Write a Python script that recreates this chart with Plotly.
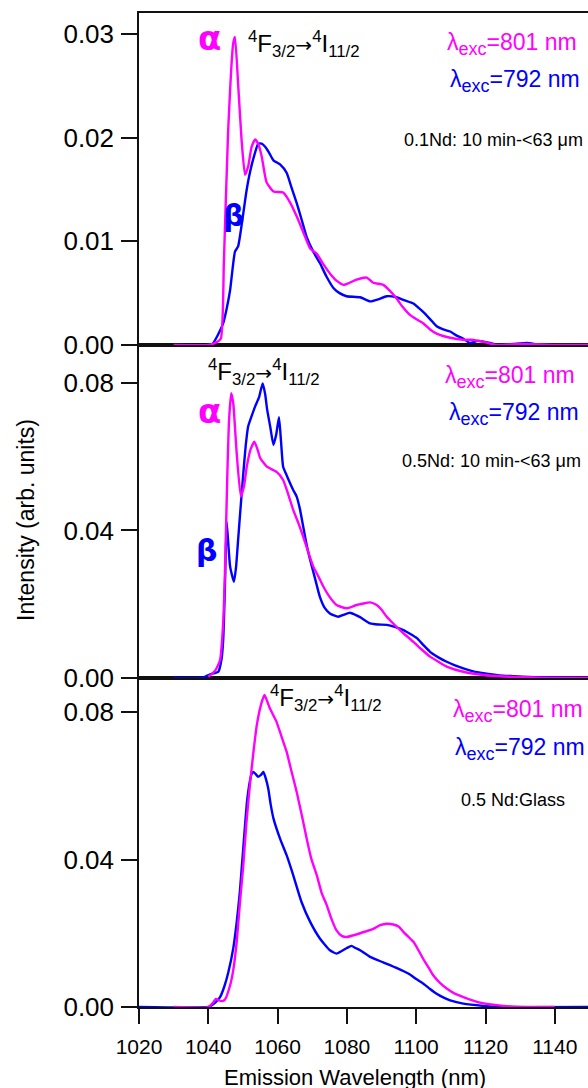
import plotly.graph_objects as go

# ---------------- data ----------------
# Panel 1 (top): 0.1Nd: 10 min-<63 um
p1_m_x = [1030, 1040, 1042, 1043.6, 1044.5, 1045.7, 1047.2, 1047.7, 1048.6, 1049.6, 1050.6, 1051.5, 1052.5, 1053.5,
          1054.4, 1055.4, 1056.8, 1058.8, 1061.6, 1063.5, 1065.5, 1067.5, 1069.4, 1071.3, 1073, 1075.1, 1077, 1079,
          1080.8, 1082.8, 1085.7, 1087.6, 1090.5, 1092.5, 1094.3, 1096, 1098.2, 1100, 1102, 1104, 1105.9, 1109.8,
          1113.6, 1116, 1119.4, 1123.2, 1130, 1140, 1150]
p1_m_y = [0, 0, 0.0002, 0.0006, 0.008, 0.0204, 0.0291, 0.0297, 0.0252, 0.0198, 0.0164, 0.0172, 0.0191, 0.0198,
          0.0194, 0.0182, 0.0157, 0.0148, 0.0147, 0.0138, 0.0124, 0.0108, 0.0093, 0.0088, 0.0079, 0.0069, 0.0062,
          0.0058, 0.0060, 0.0063, 0.0065, 0.0060, 0.0058, 0.0052, 0.0045, 0.0037, 0.0029, 0.0025, 0.0021, 0.0015,
          0.0011, 0.0007, 0.0005, 0.0005, 0.0003, 0.0, 0.0001, 0, 0]
p1_b_x = [1030, 1038, 1041, 1042.5, 1044.3, 1045.3, 1046.3, 1047.7, 1048.6, 1050.1, 1051, 1052, 1053.2, 1054.4,
          1055.4, 1056.4, 1057.6, 1058.8, 1060.7, 1062.6, 1064, 1065.5, 1067, 1068.4, 1070.3, 1072.2, 1074.1, 1076.1,
          1077.9, 1079.9, 1083.8, 1086.7, 1089, 1091.5, 1094.3, 1096.7, 1099.2, 1100.6, 1102, 1104, 1105.9, 1107.8,
          1109.8, 1111.7, 1113.6, 1115.5, 1117.9, 1121.3, 1123.5, 1128, 1132, 1136, 1150]
p1_b_y = [0, 0, 0, 0.0008, 0.0021, 0.0035, 0.0053, 0.0090, 0.0095, 0.0127, 0.0148, 0.0166, 0.0182, 0.0194,
          0.0194, 0.0191, 0.0185, 0.0178, 0.0174, 0.0166, 0.0152, 0.0137, 0.0120, 0.0104, 0.0090, 0.0079, 0.0066,
          0.0055, 0.0050, 0.0047, 0.0046, 0.0042, 0.0044, 0.0047, 0.0046, 0.0043, 0.0040, 0.0036, 0.0032, 0.0025,
          0.0018, 0.0015, 0.0013, 0.0009, 0.0006, 0.0002, 0.0004, 0.0002, 0.0, 0.0001, 0.0002, 0, 0]

# Panel 2 (middle): 0.5Nd: 10 min-<63 um
p2_m_x = [1040, 1042, 1043.4, 1044.3, 1044.8, 1045.5, 1046.0, 1046.6, 1047.2, 1047.7, 1048.2, 1049.4, 1050.3,
          1051.1, 1052.2, 1053.3, 1054.2, 1055, 1056.9, 1059.7, 1061.6, 1063, 1064.5, 1066, 1067.4, 1068.9, 1070.3,
          1071.8, 1073.2, 1075, 1077, 1079.9, 1082.8, 1084.8, 1086.7, 1088.6, 1090, 1091.5, 1094.3, 1096.7, 1099.2,
          1101.5, 1104, 1106.4, 1108.8, 1113.6, 1119.4, 1125.2, 1132, 1139, 1150]
p2_m_y = [0.0003, 0.002, 0.0049, 0.015, 0.0284, 0.0555, 0.070, 0.0772, 0.0745, 0.068, 0.0609, 0.0492, 0.052,
          0.0573, 0.062, 0.0641, 0.062, 0.0596, 0.0573, 0.0559, 0.0537, 0.050, 0.0456, 0.042, 0.0383, 0.034, 0.0302,
          0.0275, 0.0248, 0.022, 0.0198, 0.0189, 0.0198, 0.0202, 0.0205, 0.0198, 0.0185, 0.0166, 0.0139, 0.0118,
          0.0098, 0.0078, 0.0058, 0.0044, 0.0031, 0.0017, 0.0008, 0.0004, 0.0002, 0, 0]
p2_b_x = [1030, 1038, 1040.5, 1042.9, 1043.8, 1044.3, 1044.8, 1045.3, 1045.8, 1046.3, 1047.4, 1048.0, 1048.6,
          1049.3, 1050.1, 1050.8, 1051.5, 1052.5, 1053.5, 1054.6, 1055.7, 1056.4, 1057, 1057.9, 1058.8, 1059.6,
          1060.4, 1061, 1061.6, 1062.6, 1063.6, 1064.5, 1065.5, 1066.4, 1067.4, 1068.4, 1069.4, 1070.8, 1072.2,
          1073.6, 1075.1, 1077.5, 1079.2, 1080.9, 1082.3, 1083.8, 1086.7, 1089, 1091.5, 1094, 1096.3, 1098.2,
          1100.2, 1102, 1104, 1106.4, 1108.8, 1111, 1113.6, 1116.5, 1119.4, 1124, 1128, 1135, 1150]
p2_b_y = [0, 0, 0.001, 0.0017, 0.005, 0.0103, 0.025, 0.0424, 0.036, 0.0302, 0.0261, 0.030, 0.0374, 0.046, 0.0555,
          0.063, 0.0682, 0.071, 0.0736, 0.076, 0.0799, 0.077, 0.0727, 0.068, 0.0632, 0.066, 0.0707, 0.064, 0.0573,
          0.055, 0.0528, 0.051, 0.0492, 0.046, 0.0410, 0.036, 0.0320, 0.027, 0.0220, 0.019, 0.0175, 0.0166, 0.0172,
          0.0177, 0.0172, 0.0165, 0.0148, 0.0145, 0.0144, 0.0138, 0.0130, 0.012, 0.0108, 0.009, 0.0071, 0.0056,
          0.0044, 0.0035, 0.0026, 0.0018, 0.0013, 0.0007, 0.0005, 0.0002, 0]

# Panel 3 (bottom): 0.5 Nd:Glass
p3_m_x = [1030, 1040, 1041.4, 1042.2, 1043, 1044, 1044.8, 1046.3, 1047.2, 1048.2, 1049.1, 1050.1, 1051, 1052, 1053,
          1054, 1055.2, 1056.2, 1057, 1057.8, 1059.7, 1061.1, 1062.6, 1064, 1065.5, 1067, 1068.4, 1069.8, 1071.3,
          1072.7, 1074.2, 1075.6, 1077, 1078.5, 1079.9, 1082.8, 1085.7, 1087.6, 1089.6, 1091.5, 1093.4, 1095,
          1096.3, 1097.8, 1099.2, 1100.6, 1102, 1103.5, 1104.9, 1106.8, 1108.8, 1111, 1113.6, 1118.4, 1123.2, 1128,
          1134, 1140]
p3_m_y = [0, 0, 0.0012, 0.0022, 0.0018, 0.0016, 0.0020, 0.0059, 0.010, 0.0177, 0.028, 0.0385, 0.050, 0.0602, 0.069,
          0.0765, 0.082, 0.0847, 0.083, 0.0810, 0.0774, 0.0735, 0.0693, 0.064, 0.0584, 0.052, 0.0457, 0.040, 0.0358,
          0.031, 0.0276, 0.0238, 0.0208, 0.0193, 0.0190, 0.0197, 0.0206, 0.0212, 0.0222, 0.0226, 0.0224, 0.0218,
          0.0204, 0.019, 0.0177, 0.0155, 0.0131, 0.0108, 0.0086, 0.0066, 0.0050, 0.0037, 0.0027, 0.0012, 0.0005,
          0.0001, 0, 0]
p3_b_x = [1020, 1040, 1041, 1042, 1043.4, 1044.6, 1045.8, 1047.2, 1048.2, 1049.1, 1050, 1050.6, 1051.2, 1051.8,
          1052.4, 1053, 1053.7, 1054.4, 1055.2, 1055.9, 1056.6, 1057.3, 1058, 1058.8, 1060.7, 1062.6, 1064.5,
          1066.9, 1069.4, 1072.2, 1075.1, 1077, 1078.5, 1080, 1081.3, 1082.5, 1083.8, 1086.7, 1090.5, 1094.3,
          1098.2, 1100, 1102, 1104, 1105.9, 1107.8, 1109.8, 1113.6, 1119.4, 1125, 1150]
p3_b_y = [0, 0, 0.0005, 0.0012, 0.0027, 0.0055, 0.0095, 0.0159, 0.023, 0.0312, 0.042, 0.0493, 0.056, 0.0602,
          0.0630, 0.0638, 0.0632, 0.0625, 0.063, 0.0638, 0.062, 0.0593, 0.055, 0.0512, 0.0457, 0.0412, 0.0358,
          0.0285, 0.0231, 0.0186, 0.0154, 0.0145, 0.0152, 0.0160, 0.0166, 0.0160, 0.0154, 0.0136, 0.0121, 0.0106,
          0.0088, 0.0076, 0.0064, 0.0049, 0.0036, 0.0026, 0.0018, 0.0009, 0.0003, 0, 0]

x_ticks = [1020, 1040, 1060, 1080, 1100, 1120, 1140]
y1_ticks = [0.00, 0.01, 0.02, 0.03]
y23_ticks = [0.00, 0.04, 0.08]

transition = ("<sup>4</sup>F<sub>3/2</sub><span style='font-family:DejaVu Sans;font-size:20px'>→</span>"
              "<sup>4</sup>I<sub>11/2</sub>")
sample_labels = ["0.1Nd: 10 min-<63 μm", "0.5Nd: 10 min-<63 μm", "0.5 Nd:Glass"]

MAG = "#FF00FF"
BLU = "#0000FF"

# ---------------- layout geometry (reference pixels) ----------------
W, H = 588, 1088
X0, Y_TOP, Y_BOT = 139, 13, 1007
ML, MR, MT, MB = X0, 0, Y_TOP, H - Y_BOT
PW = W - ML - MR
PH = H - MT - MB


def px(xp):
    return (xp - X0) / PW


def py(yp):
    return (Y_BOT - yp) / PH


FONT = "Liberation Sans, Arial, Helvetica, sans-serif"
GREEK = "DejaVu Sans, sans-serif"

fig = go.Figure()

panels = [
    ("x", "y", p3_b_x, p3_b_y, p3_m_x, p3_m_y),
    ("x2", "y2", p2_b_x, p2_b_y, p2_m_x, p2_m_y),
    ("x3", "y3", p1_b_x, p1_b_y, p1_m_x, p1_m_y),
]
for xa, ya, bx, by, mx, my in panels:
    fig.add_trace(go.Scatter(x=bx, y=by, mode="lines", xaxis=xa, yaxis=ya,
                             line=dict(color=BLU, width=2.4, shape="spline", smoothing=0.5),
                             showlegend=False, hoverinfo="skip"))
    fig.add_trace(go.Scatter(x=mx, y=my, mode="lines", xaxis=xa, yaxis=ya,
                             line=dict(color=MAG, width=2.4, shape="spline", smoothing=0.5),
                             showlegend=False, hoverinfo="skip"))

xrange = [1020, 1020 + PW / 3.465]
axline = dict(showline=True, linecolor="#111", linewidth=1.5, showgrid=False, zeroline=False)

d3 = [0, py(678)]
d2 = [py(678), py(345)]
d1 = [py(345), 1]

yax = dict(ticks="outside", ticklen=16, tickwidth=1.5, tickcolor="#111", tickformat=".2f",
           tickfont=dict(size=26), ticklabelstandoff=2, **axline)

fig.update_layout(
    width=W, height=H,
    margin=dict(l=ML, r=MR, t=MT, b=MB, pad=0),
    paper_bgcolor="white", plot_bgcolor="white",
    font=dict(family=FONT, color="black"),
    xaxis=dict(domain=[0, 1], range=xrange, anchor="y", mirror=True, ticks="outside", ticklen=15,
               tickwidth=1.5, tickcolor="#111", tickvals=x_ticks, tickfont=dict(size=21),
               ticklabelstandoff=5, **axline),
    xaxis2=dict(domain=[0, 1], range=xrange, anchor="y2", matches="x", mirror=True, ticks="",
                showticklabels=False, **axline),
    xaxis3=dict(domain=[0, 1], range=xrange, anchor="y3", matches="x", mirror=True, ticks="",
                showticklabels=False, **axline),
    yaxis=dict(domain=d3, range=[0, 0.0893], anchor="x", tickvals=y23_ticks, **yax),
    yaxis2=dict(domain=d2, range=[0, 0.0903], anchor="x2", tickvals=y23_ticks, **yax),
    yaxis3=dict(domain=d1, range=[0, 0.0320], anchor="x3", tickvals=y1_ticks, **yax),
)

ann = []


def add(text, xp, yp, size, color="black", family=FONT, xanchor="center", angle=0):
    ann.append(dict(text=text, x=px(xp), y=py(yp), xref="paper", yref="paper", showarrow=False,
                    xanchor=xanchor, yanchor="middle", textangle=angle,
                    font=dict(size=size, color=color, family=family)))


lam801 = "λ<sub><span style='font-size:18px'>exc</span></sub>=801 nm"
lam792 = "λ<sub><span style='font-size:18px'>exc</span></sub>=792 nm"

# panel 1
add("<b>α</b>", 209, 38, 34, MAG, GREEK)
add("<b>β</b>", 233, 216, 30, BLU, GREEK)
add(transition, 304, 44, 24)
add(lam801, 512, 44, 23, MAG)
add(lam792, 515, 81, 23, BLU)
add(sample_labels[0], 402, 140, 18, xanchor="left")
# panel 2
add(transition, 264, 372, 24)
add("<b>α</b>", 209, 411, 34, MAG, GREEK)
add("<b>β</b>", 206, 550, 30, BLU, GREEK)
add(lam801, 510, 377, 23, MAG)
add(lam792, 514, 414, 23, BLU)
add(sample_labels[1], 400, 461, 18, xanchor="left")
# panel 3
add(transition, 326, 698, 24)
add(lam801, 518, 711, 23, MAG)
add(lam792, 520, 749, 23, BLU)
add(sample_labels[2], 513, 800, 18)

# axis titles
add("Intensity (arb. units)", 26, 520, 23, angle=-90)
add("Emission Wavelength (nm)", 355, 1077, 22)

fig.update_layout(annotations=ann)
fig.write_html("out.html", config={"displayModeBar": False},
               post_script="document.body.style.margin='0';document.body.style.overflow='hidden';")
